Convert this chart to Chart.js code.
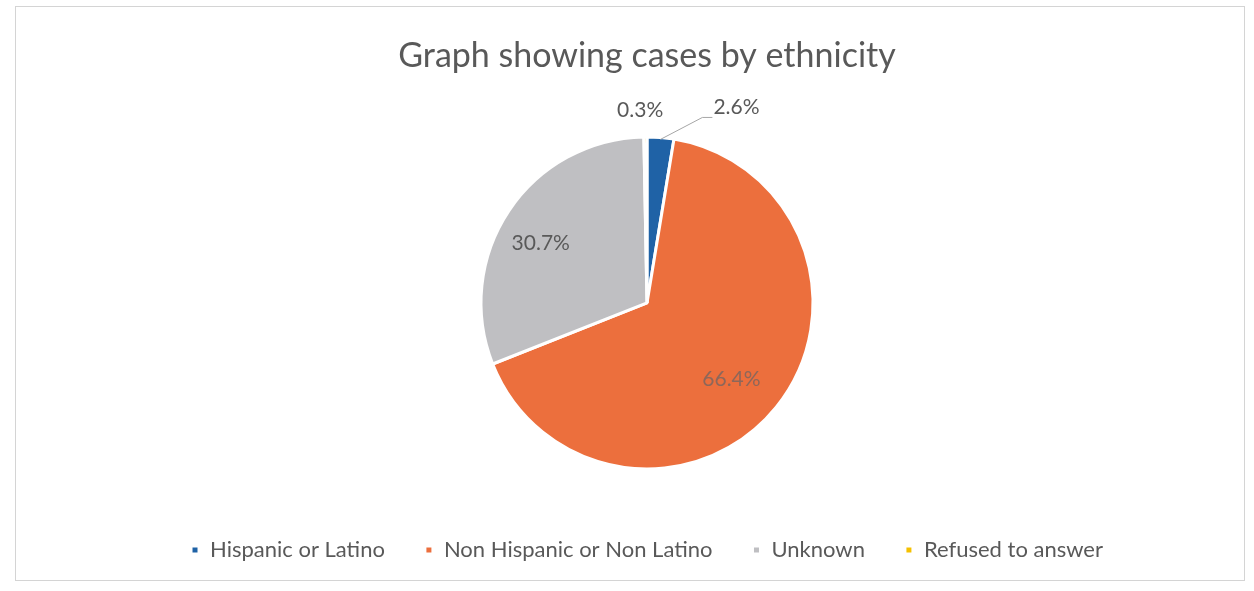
<!DOCTYPE html>
<html>
<head>
<meta charset="utf-8">
<script src="https://cdn.jsdelivr.net/npm/chart.js@4.4.1/dist/chart.umd.min.js"></script>
<style>
  html, body { margin: 0; padding: 0; background: #ffffff; }
  #wrap { position: relative; width: 1254px; height: 591px; }
  canvas { display: block; }
</style>
</head>
<body>
<div id="wrap"><canvas id="c" width="1254" height="591"></canvas></div>
<script>
// ---- data ----
const chartTitle = "Graph showing cases by ethnicity";
const categories = ["Hispanic or Latino", "Non Hispanic or Non Latino", "Unknown", "Refused to answer"];
const percentages = [2.6, 66.4, 30.7, 0.3];
const sliceColors = ["#1f62a6", "#ec6f3d", "#bfbfc2", "#f5c000"];

const FONT = "Lato, 'Open Sans', sans-serif";
const TEXT = "#595959";

// frame around the chart
const framePlugin = {
  id: 'frame',
  beforeDraw(chart) {
    const ctx = chart.ctx;
    ctx.save();
    ctx.strokeStyle = '#d4d4d4';
    ctx.lineWidth = 1;
    ctx.strokeRect(15.5, 6.5, 1229, 574);
    ctx.restore();
  }
};

// data labels (inside for large slices, outside with leader for small ones)
const labelPlugin = {
  id: 'sliceLabels',
  afterDatasetsDraw(chart) {
    const ctx = chart.ctx;
    const meta = chart.getDatasetMeta(0);
    ctx.save();
    ctx.font = "21px " + FONT;
    ctx.textAlign = 'center';
    ctx.textBaseline = 'middle';
    meta.data.forEach((arc, i) => {
      const p = arc.getProps(['x', 'y', 'startAngle', 'endAngle', 'outerRadius'], true);
      const mid = (p.startAngle + p.endAngle) / 2;
      const txt = percentages[i].toFixed(1) + '%';
      const cos = Math.cos(mid), sin = Math.sin(mid);
      if (i === 1) {
        ctx.fillStyle = 'rgba(110,100,100,0.75)';
        const r = p.outerRadius * 0.70;
        ctx.fillText(txt, p.x + cos * r - 6, p.y + sin * r + 3);
      } else if (i === 2) {
        ctx.fillStyle = TEXT;
        const r = p.outerRadius * 0.74;
        ctx.fillText(txt, p.x + cos * r - 4, p.y + sin * r + 8);
      } else if (i === 0) {
        // leader line
        const sx = p.x + cos * (p.outerRadius - 2), sy = p.y + sin * (p.outerRadius - 2);
        const ex = sx + 42, ey = sy - 22;
        ctx.strokeStyle = '#a6a6a6';
        ctx.lineWidth = 1;
        ctx.beginPath();
        ctx.moveTo(sx, sy);
        ctx.lineTo(ex, ey);
        ctx.lineTo(ex + 10, ey);
        ctx.stroke();
        ctx.fillStyle = TEXT;
        ctx.textAlign = 'left';
        ctx.fillText(txt, ex + 11, ey - 10);
        ctx.textAlign = 'center';
      } else {
        ctx.fillStyle = TEXT;
        const r = p.outerRadius + 27;
        ctx.fillText(txt, p.x + cos * r - 5, p.y + sin * r);
      }
    });
    ctx.restore();
  }
};

new Chart(document.getElementById('c'), {
  type: 'pie',
  data: {
    labels: categories,
    datasets: [{
      data: percentages,
      backgroundColor: sliceColors,
      borderColor: '#ffffff',
      borderWidth: 3,
      radius: 166
    }]
  },
  options: {
    responsive: false,
    animation: false,
    layout: { padding: { left: 40, right: 0, top: 0, bottom: 20 } },
    plugins: {
      title: {
        display: true,
        text: chartTitle,
        color: TEXT,
        font: { family: FONT, size: 34, weight: 'normal' },
        padding: { top: 36, bottom: 30 }
      },
      legend: {
        display: true,
        position: 'bottom',
        labels: {
          color: TEXT,
          font: { family: FONT, size: 22 },
          boxWidth: 8,
          boxHeight: 8,
          padding: 40
        }
      },
      tooltip: { enabled: false }
    }
  },
  plugins: [framePlugin, labelPlugin]
});
</script>
</body>
</html>
